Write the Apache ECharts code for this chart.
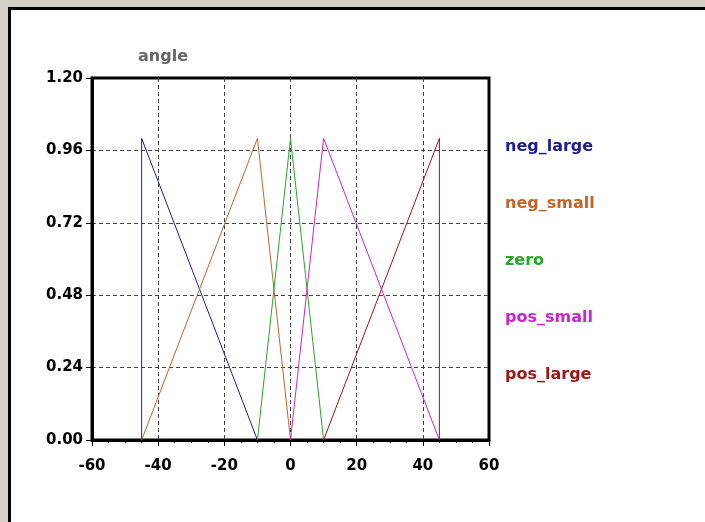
<!DOCTYPE html>
<html>
<head>
<meta charset="utf-8">
<script src="https://cdn.jsdelivr.net/npm/echarts@6/dist/echarts.min.js"></script>
<style>
  html, body { margin: 0; padding: 0; width: 705px; height: 522px; overflow: hidden; background: #d4d0c8; }
  #frame { position: absolute; left: 8px; top: 7px; width: 720px; height: 540px; background: #fff; border-left: 3px solid #000; border-top: 3px solid #000; }
  #chart { position: absolute; left: 0; top: 0; width: 705px; height: 522px; }
</style>
</head>
<body>
<div id="frame"></div>
<div id="chart"></div>
<script>
const seriesNames = ['neg_large', 'neg_small', 'zero', 'pos_small', 'pos_large'];
const seriesColors = ['#1c1c96', '#c0642c', '#22aa22', '#cc22cc', '#a01414'];
const negLarge = [[-45, 0], [-45, 1], [-10, 0]];
const negSmall = [[-45, 0], [-10, 1], [0, 0]];
const zero = [[-10, 0], [0, 1], [10, 0]];
const posSmall = [[0, 0], [10, 1], [45, 0]];
const posLarge = [[10, 0], [45, 1], [45, 0]];
const seriesData = [negLarge, negSmall, zero, posSmall, posLarge];
const xTicks = [-60, -40, -20, 0, 20, 40, 60];
const yTicks = [0, 0.24, 0.48, 0.72, 0.96, 1.2];

const chart = echarts.init(document.getElementById('chart'), null, { renderer: 'canvas' });
const fontFam = '"DejaVu Sans", Verdana, sans-serif';
const gridLine = { show: true, showMinLine: false, showMaxLine: false, lineStyle: { color: '#444', type: [4, 3], width: 1 } };

chart.setOption({
  backgroundColor: 'transparent',
  animation: false,
  title: {
    text: 'angle', left: 133, top: 44,
    textStyle: { color: '#666', fontFamily: fontFam, fontWeight: 'bold', fontSize: 16 }
  },
  grid: { left: 92, top: 78, width: 397, height: 362, show: true, borderColor: '#000', borderWidth: 3, backgroundColor: 'transparent' },
  xAxis: [{
    type: 'value', min: xTicks[0], max: xTicks[xTicks.length - 1], interval: 20,
    axisLine: { show: true, onZero: false, lineStyle: { color: '#000', width: 3 } },
    axisTick: { show: true, length: 6, lineStyle: { color: '#000', width: 1 } },
    axisLabel: { color: '#000', fontFamily: fontFam, fontWeight: 'bold', fontSize: 15, margin: 19 },
    splitLine: gridLine
  }, {
    type: 'value', min: xTicks[0], max: xTicks[xTicks.length - 1], interval: 20, position: 'bottom',
    axisLine: { show: false }, axisLabel: { show: false }, splitLine: { show: false },
    axisTick: { show: false },
    minorTick: { show: true, splitNumber: 4, length: 3, lineStyle: { color: '#000', width: 1 } },
    axisPointer: { show: false }
  }],
  yAxis: {
    type: 'value', min: yTicks[0], max: yTicks[yTicks.length - 1], interval: 0.24,
    axisLine: { show: true, onZero: false, lineStyle: { color: '#000', width: 3 } },
    axisTick: { show: true, length: 6, lineStyle: { color: '#000', width: 1 } },
    axisLabel: { color: '#000', fontFamily: fontFam, fontWeight: 'bold', fontSize: 15, margin: 9,
      formatter: v => v.toFixed(2) },
    splitLine: gridLine
  },
  legend: {
    orient: 'vertical', left: 495, top: 134, itemWidth: 0, itemHeight: 16, itemGap: 41,
    icon: 'none', selectedMode: false,
    data: seriesNames.map((n, i) => ({ name: n, textStyle: { color: seriesColors[i] } })),
    textStyle: { fontFamily: fontFam, fontWeight: 'bold', fontSize: 16 }
  },
  series: seriesNames.map((n, i) => ({
    name: n, type: 'line', data: seriesData[i], symbol: 'none', xAxisIndex: 0,
    lineStyle: { color: seriesColors[i], width: 1 }, itemStyle: { color: seriesColors[i] }, z: 3
  }))
});
</script>
</body>
</html>
